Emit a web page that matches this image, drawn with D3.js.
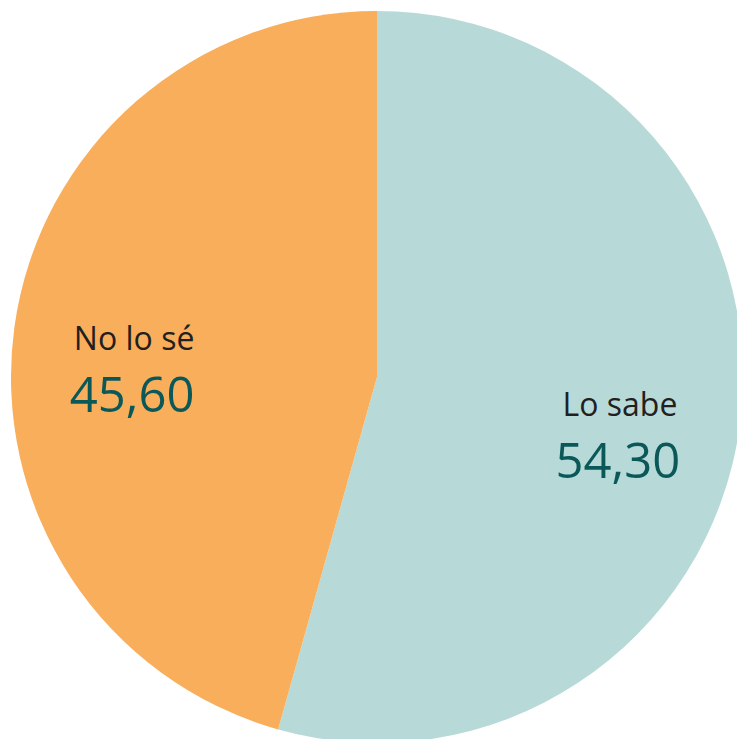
<!DOCTYPE html>
<html>
<head>
<meta charset="utf-8">
<title>pie</title>
<script src="https://d3js.org/d3.v7.min.js"></script>
<style>
  body { margin: 0; background: #fff; }
</style>
</head>
<body>
<div id="my_dataviz"></div>
<script>

// data
var categories = ["Lo sabe", "No lo sé"]
var values = [54.30, 45.60]
var valueLabels = ["54,30", "45,60"]
var colors = ["#b7dad9", "#f8ae5b"]

var width = 737
    height = 739
    radius = 366

var svg = d3.select("#my_dataviz")
  .append("svg")
    .attr("width", width)
    .attr("height", height)
  .append("g")
    .attr("transform", "translate(377,377)");

var color = d3.scaleOrdinal()
  .domain(categories)
  .range(colors);

var pie = d3.pie()
  .value(function(d) { return d.value; })
  .sort(null)

var data_ready = pie(categories.map(function(c, i) {
  return { key: c, value: values[i], label: valueLabels[i] };
}))

var arc = d3.arc().innerRadius(0).outerRadius(radius)
var labelArc = d3.arc().innerRadius(radius * 0.67).outerRadius(radius * 0.67)

svg.selectAll("path")
  .data(data_ready)
  .enter()
  .append("path")
    .attr("d", arc)
    .attr("fill", function(d) { return color(d.data.key); })

// category name
svg.selectAll("text.cat")
  .data(data_ready)
  .enter()
  .append("text")
    .attr("class", "cat")
    .attr("x", function(d) { return labelArc.centroid(d)[0]; })
    .attr("y", function(d) { return labelArc.centroid(d)[1] + 6; })
    .attr("text-anchor", "middle")
    .style("font-family", "'Open Sans', sans-serif")
    .style("font-size", "32px")
    .style("fill", "#231f20")
    .text(function(d) { return d.data.key; })

// value
svg.selectAll("text.val")
  .data(data_ready)
  .enter()
  .append("text")
    .attr("class", "val")
    .attr("x", function(d) { return labelArc.centroid(d)[0] - 2; })
    .attr("y", function(d) { return labelArc.centroid(d)[1] + 68; })
    .attr("text-anchor", "middle")
    .style("font-family", "'Open Sans', sans-serif")
    .style("font-size", "49px")
    .style("fill", "#0b5859")
    .text(function(d) { return d.data.label; })

</script>
</body>
</html>
